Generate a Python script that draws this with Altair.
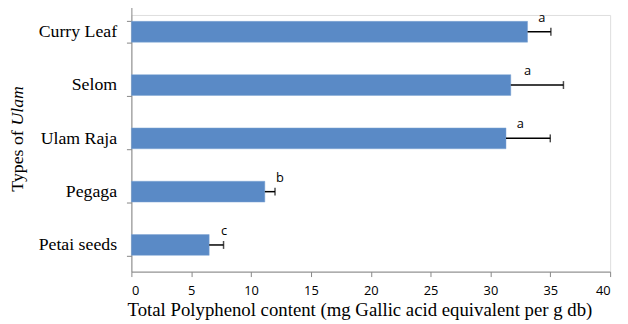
import altair as alt
import pandas as pd

categories = ["Curry Leaf", "Selom", "Ulam Raja", "Pegaga", "Petai seeds"]
means = [33.1, 31.7, 31.3, 11.15, 6.5]
err_high = [35.05, 36.1, 35.0, 12.0, 7.7]
letters = ["a", "a", "a", "b", "c"]
letter_pos = [34.3, 33.1, 32.5, 12.4, 7.75]

df = pd.DataFrame({
    "cat": categories,
    "mean": means,
    "hi": err_high,
    "letter": letters,
    "lpos": letter_pos,
})

W, H = 485, 260
yscale = alt.Scale(domain=categories, range=[-10, 260], paddingInner=0.61, paddingOuter=0.305)
xscale = alt.Scale(domain=[0, 40])

def ycen():
    return alt.Y("cat:N", scale=yscale, sort=categories, bandPosition=0.5)

bars = alt.Chart(df).mark_bar(color="#5A8AC6", stroke="#7FA5D5", strokeWidth=0.5).encode(
    x=alt.X("mean:Q", scale=xscale,
            axis=alt.Axis(values=[0, 5, 10, 15, 20, 25, 30, 35, 40], grid=False,
                          title="Total Polyphenol content (mg Gallic acid equivalent per g db)",
                          titleFont="Liberation Serif", titleFontSize=19, titleFontWeight="normal",
                          titleX=231, titleAlign="center",
                          labelFont="Open Sans", labelFontSize=13)),
    y=alt.Y("cat:N", scale=yscale, sort=categories,
            axis=alt.Axis(title=None, tickBand="extent", labelFont="Liberation Serif",
                          labelFontSize=18, labelPadding=10)),
)

err = alt.Chart(df).mark_rule(color="#000000", strokeWidth=1.5).encode(
    x=alt.X("mean:Q", scale=xscale), x2="hi:Q", y=ycen(),
)

caps = alt.Chart(df).mark_tick(color="#000000", thickness=1.5, size=8, orient="vertical").encode(
    x=alt.X("hi:Q", scale=xscale), y=ycen(),
)

labels = alt.Chart(df).mark_text(font="Open Sans", fontSize=13, color="#000000", dy=-14).encode(
    x=alt.X("lpos:Q", scale=xscale), y=ycen(), text="letter:N",
)

t1 = alt.Chart(pd.DataFrame({"t": ["Types of"]})).mark_text(
    font="Liberation Serif", fontSize=18, angle=270, align="left", baseline="alphabetic",
    color="#000000"
).encode(x=alt.value(-110), y=alt.value(179), text="t:N")

t2 = alt.Chart(pd.DataFrame({"t": ["Ulam"]})).mark_text(
    font="Liberation Serif", fontSize=18, fontStyle="italic", angle=270, align="left",
    baseline="alphabetic", color="#000000"
).encode(x=alt.value(-110), y=alt.value(112), text="t:N")

chart = alt.layer(bars, err, caps, labels, t1, t2).properties(
    width=W, height=H,
    autosize=alt.AutoSizeParams(type="none"),
    padding={"left": 125, "top": 5, "right": 10, "bottom": 51},
).configure_view(stroke=None).configure(background="#ffffff").configure_axisX(
    titleColor="#000000", titlePadding=3, labelColor="#000000",
    domainColor="#868686", tickColor="#868686", tickSize=5, labelPadding=8,
).configure_axisY(
    labelColor="#000000",
    domainColor="#868686", tickColor="#868686", tickSize=5,
)

chart.save("out.html", embed_options={"renderer": "svg", "actions": False})
